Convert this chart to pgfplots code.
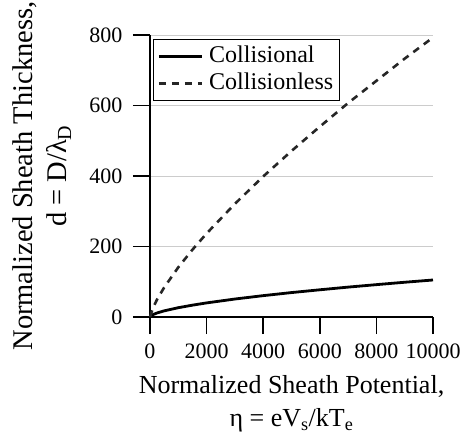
\documentclass[border=0pt]{standalone}
\usepackage{fontspec}
\setmainfont{Liberation Serif}
\usepackage{pgfplots}
\pgfplotsset{compat=1.18}
\pgfplotsset{major tick length=17pt}
\begin{document}
\begin{tikzpicture}
\useasboundingbox (-150pt,-122pt) rectangle (312pt,317pt);
\begin{axis}[
  at={(0pt,0pt)}, anchor=origin,
  scale only axis, clip=false,
  width=283pt, height=282pt,
  xmin=0, xmax=10000, ymin=0, ymax=800,
  axis x line=bottom, axis y line=left,
  axis line style={line width=1.6pt, -},
  xtick={0,2000,4000,6000,8000,10000},
  ytick={0,200,400,600,800},
  tick align=outside,
  major tick length=17pt,
  tick style={draw=black, line width=1.6pt},
  ymajorgrids,
  grid style={line width=0.7pt, black!20},
  scaled x ticks=false,
  /pgf/number format/assume math mode=true,
  /pgf/number format/1000 sep={},
  tick label style={font=\fontsize{22}{22}\selectfont},
  yticklabel style={xshift=-7pt},
  xticklabel style={yshift=-6pt},
  every axis x label/.style={at={(axis description cs:0.5,0)}, anchor=north, yshift=-55pt,
    font=\fontsize{26}{33}\selectfont, align=center},
  every axis y label/.style={at={(axis description cs:0,0.5)}, anchor=center, rotate=90, yshift=108pt,
    font=\fontsize{28.5}{34}\selectfont, align=center},
  xlabel={Normalized Sheath Potential,\\ η = eV\textsubscript{s}/kT\textsubscript{e}},
  ylabel={Normalized Sheath Thickness,\\ d = D/λ\textsubscript{D}},
  legend style={at={(0.01,0.986)}, anchor=north west, draw=black, line width=1.2pt,
    font=\fontsize{24}{26}\selectfont, fill=white, inner sep=4pt,
    nodes={inner sep=2pt, text height=17pt, text depth=5pt},
    legend cell align=left, row sep=1pt},
  legend image code/.code={\draw[#1] (0pt,0pt) -- (43pt,0pt);},
]
\pgfplotsinvokeforeach{0,200,400,600,800}{
  \draw[line width=1.6pt, black] (axis cs:0,#1) -- ++(-17pt,0pt);
}
\pgfplotsinvokeforeach{0,2000,4000,6000,8000,10000}{
  \draw[line width=1.6pt, black] (axis cs:#1,0) -- ++(0pt,-17pt);
}
\addplot[black, line width=2.8pt] coordinates {
(0,0) (100,6.6) (250,11.5) (500,17.4) (1000,26.4) (1500,33.6) (2000,40.0)
(3000,51.0) (4000,60.6) (5000,69.3) (6000,77.2) (7000,84.8) (8000,91.8)
(9000,98.6) (10000,105)};
\addlegendentry{\hspace{4pt}Collisional}
\addplot[black!85, line width=2.6pt, dash pattern=on 7pt off 6pt] coordinates {
(0,0) (100,25.1) (250,49.8) (500,83.8) (1000,141) (1500,191) (2000,237)
(3000,321) (4000,398.7) (5000,471) (6000,540) (7000,607) (8000,670)
(9000,733) (10000,793)};
\addlegendentry{\hspace{4pt}Collisionless}
\end{axis}
\end{tikzpicture}
\end{document}
